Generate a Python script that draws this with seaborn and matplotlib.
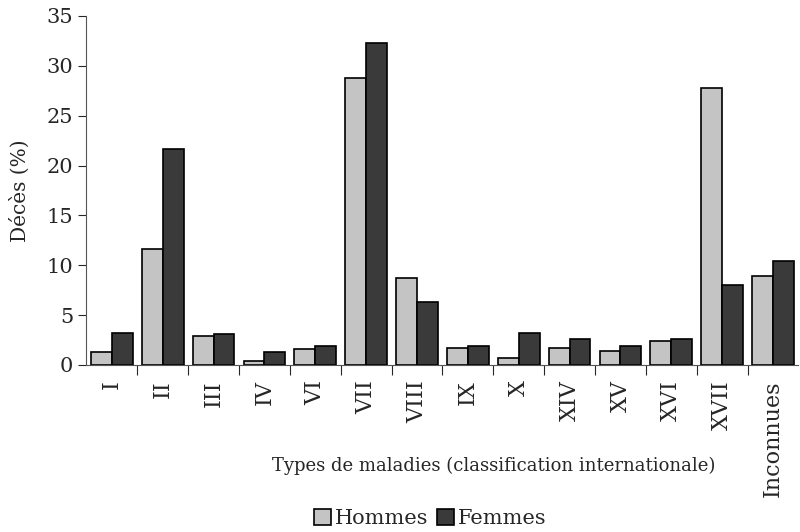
import numpy as np
import pandas as pd
import matplotlib
matplotlib.use("Agg")
import matplotlib.pyplot as plt
import seaborn as sns

# ── données ─────────────────────────────────────────────────
categories = ["I", "II", "III", "IV", "VI", "VII", "VIII", "IX", "X",
              "XIV", "XV", "XVI", "XVII", "Inconnues"]
hommes = [1.3, 11.6, 2.9, 0.4, 1.6, 28.8, 8.7, 1.7, 0.7, 1.7, 1.4, 2.4, 27.8, 8.9]
femmes = [3.2, 21.7, 3.1, 1.3, 1.9, 32.3, 6.3, 1.9, 3.2, 2.6, 1.9, 2.6, 8.0, 10.4]
series = ["Hommes", "Femmes"]
colors = ["#c4c4c4", "#3a3a3a"]

df = pd.DataFrame({
    "type": categories * 2,
    "sexe": [series[0]] * len(categories) + [series[1]] * len(categories),
    "deces": hommes + femmes,
})

sns.set_style("white")
plt.rcParams["font.family"] = ["DejaVu Serif"]

fig = plt.figure(figsize=(8, 5.32), dpi=100)
ax = fig.add_axes([0.108, 0.314, 0.89, 0.656])

sns.barplot(data=df, x="type", y="deces", hue="sexe", order=categories,
            hue_order=series, palette=colors, width=0.82, gap=0,
            edgecolor="black", linewidth=1.2, saturation=1, ax=ax)

ax.set_ylim(0, 35)
ax.set_xlim(-0.5, len(categories) - 0.5)
ax.set_yticks(range(0, 36, 5))
ax.tick_params(axis="y", labelsize=15, direction="out", length=6, width=0.8, left=True)
ax.set_xticks(range(len(categories)))
ax.set_xticklabels(categories, rotation=90, fontsize=16)
ax.tick_params(axis="x", which="major", length=0, pad=11)
ax.set_xticks(np.arange(0.5, len(categories) - 0.5, 1), minor=True)
ax.tick_params(axis="x", which="minor", direction="out", length=7, width=0.8, bottom=True)

for side in ["top", "right"]:
    ax.spines[side].set_visible(False)
for side in ["left", "bottom"]:
    ax.spines[side].set_color("#555555")
    ax.spines[side].set_linewidth(0.8)

ax.set_ylabel("Décès (%)", fontsize=14.5, labelpad=12)
ax.set_xlabel("Types de maladies (classification internationale)", fontsize=13,
              va="center")
ax.xaxis.set_label_coords(0.572, -0.289)

ax.get_legend().remove()
handles, labels = ax.get_legend_handles_labels()
fig.legend(handles, labels, loc="center", bbox_to_anchor=(0.538, 0.026), ncol=2,
           frameon=False, fontsize=15, handlelength=0.8, handleheight=0.8,
           handletextpad=0.2, columnspacing=0.4, borderpad=0)

fig.savefig("out.png", dpi=100)
